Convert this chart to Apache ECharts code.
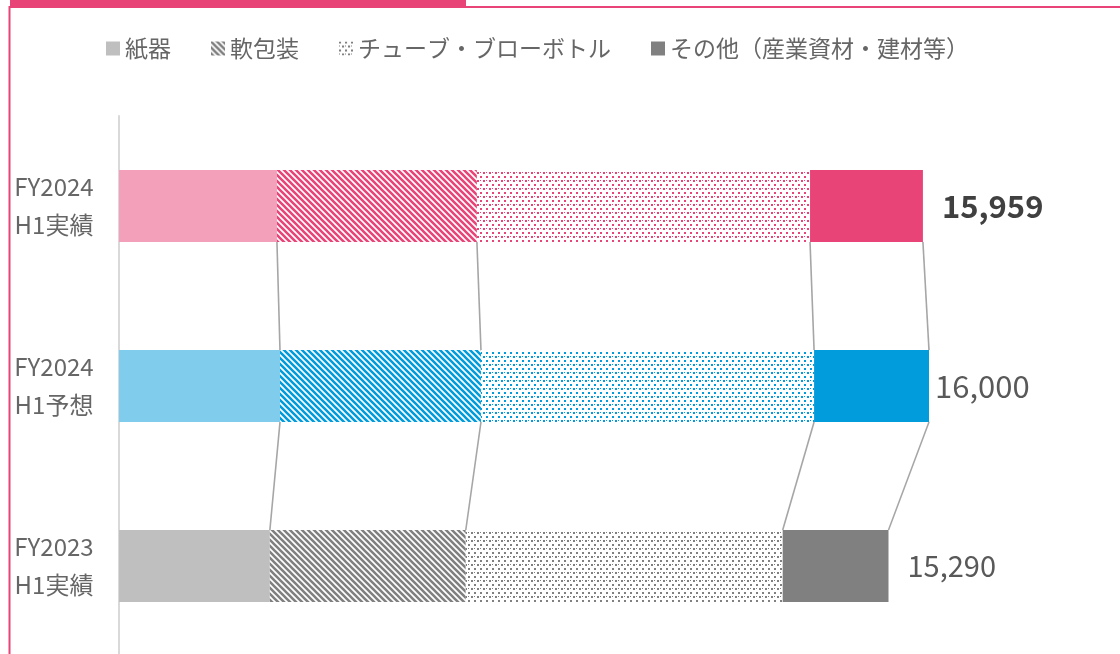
<!DOCTYPE html>
<html>
<head>
<meta charset="utf-8">
<script src="https://cdn.jsdelivr.net/npm/echarts@6/dist/echarts.min.js"></script>
<style>
html,body{margin:0;padding:0;background:#fff;}
#c{width:1120px;height:654px;}
</style>
</head>
<body>
<div id="c"></div>
<script>
// ---- data ----
const categories = ['FY2024\nH1実績', 'FY2024\nH1予想', 'FY2023\nH1実績'];
const seriesNames = ['紙器', '軟包装', 'チューブ・ブローボトル', 'その他（産業資材・建材等）'];
const paper = [3120, 3180, 2980];
const softPack = [3950, 3970, 3870];
const tube = [6580, 6580, 6260];
const other = [2230, 2270, 2090];
const totals = [15959, 16000, 15290];

// ---- styles ----
const FONT = "'Noto Sans CJK JP', 'Noto Sans', sans-serif";
const BAR_W = 72;
const palettes = [
  { light: '#F3A1BB', dark: '#E84478' },  // FY2024 実績 (pink)
  { light: '#80CCEC', dark: '#009CDB' },  // FY2024 予想 (blue)
  { light: '#BFBFBF', dark: '#808080' }   // FY2023 実績 (gray)
];

function stripes(color) {
  const s = 6, c = document.createElement('canvas');
  c.width = s; c.height = s;
  const g = c.getContext('2d');
  g.fillStyle = '#fff'; g.fillRect(0, 0, s, s);
  g.strokeStyle = color; g.lineWidth = 2.6;
  g.beginPath();
  for (let k = -1; k <= 1; k++) { g.moveTo(k * s - 1, -1); g.lineTo(k * s + s + 1, s + 1); }
  g.stroke();
  return { image: c, repeat: 'repeat' };
}
function dots(color) {
  const c = document.createElement('canvas');
  c.width = 6; c.height = 8;
  const g = c.getContext('2d');
  g.fillStyle = '#fff'; g.fillRect(0, 0, 6, 8);
  g.fillStyle = color;
  g.fillRect(0, 0, 2, 2);
  g.fillRect(3, 4, 2, 2);
  g.fillRect(0, 4, 1, 1);
  return { image: c, repeat: 'repeat' };
}

const fills = [
  p => p.light,
  p => stripes(p.dark),
  p => dots(p.dark),
  p => p.dark
];
const seriesValues = [paper, softPack, tube, other];
const legendPal = palettes[2];

const labelStyles = [
  { distance: 19, fontSize: 31, fontWeight: 'bold', color: '#404040' },
  { distance: 6, fontSize: 31, fontWeight: 'normal', color: '#595959' },
  { distance: 19, fontSize: 29, fontWeight: 'normal', color: '#595959' }
];

const barSeries = seriesNames.map((name, si) => ({
  name,
  type: 'bar',
  stack: 'total',
  barWidth: BAR_W,
  itemStyle: { color: fills[si](legendPal) },
  emphasis: { disabled: true },
  data: seriesValues[si].map((v, ci) => {
    const item = { value: v, itemStyle: { color: fills[si](palettes[ci]) } };
    if (si === 3) {
      item.label = Object.assign({
        show: true,
        position: 'right',
        fontFamily: FONT,
        formatter: () => totals[ci].toLocaleString('en-US')
      }, labelStyles[ci]);
    }
    return item;
  })
}));

function cumulative(idx) {
  const a = paper[idx], b = a + softPack[idx], c = b + tube[idx], d = c + other[idx];
  return [a, b, c, d];
}

const linkSeries = {
  type: 'custom',
  silent: true,
  z: 1,
  encode: { x: 0, y: 1 },
  data: categories.slice(0, -1).map((_, i) => [0, i]),
  renderItem: (params, api) => {
    const i = params.dataIndex;
    const c0 = cumulative(i), c1 = cumulative(i + 1);
    const half = BAR_W / 2;
    return {
      type: 'group',
      children: c0.map((v, k) => {
        const p0 = api.coord([v, i]);
        const p1 = api.coord([c1[k], i + 1]);
        return {
          type: 'line',
          shape: { x1: p0[0], y1: p0[1] + half, x2: p1[0], y2: p1[1] - half },
          style: { stroke: '#A6A6A6', lineWidth: 1.6 }
        };
      })
    };
  }
};

const chart = echarts.init(document.getElementById('c'), null, { renderer: 'canvas' });
chart.setOption({
  animation: false,
  backgroundColor: '#fff',
  textStyle: { fontFamily: FONT },
  legend: {
    data: seriesNames,
    left: 101,
    top: 32,
    icon: 'rect',
    itemWidth: 14,
    itemHeight: 14,
    itemGap: 40,
    textStyle: { fontSize: 23, color: '#666666', fontFamily: FONT },
    selectedMode: false
  },
  grid: {
    left: 119,
    top: 116,
    width: 911.25,
    height: 540,
    outerBoundsMode: 'none',
    containLabel: false
  },
  xAxis: {
    type: 'value',
    min: 0,
    max: 18000,
    show: false
  },
  yAxis: {
    type: 'category',
    data: categories,
    inverse: true,
    axisLine: { show: true, lineStyle: { color: '#D9D9D9', width: 2 } },
    axisTick: { show: false },
    splitLine: { show: false },
    axisLabel: {
      fontSize: 24,
      lineHeight: 38,
      color: '#666666',
      align: 'center',
      margin: 65,
      fontFamily: FONT
    }
  },
  graphic: [
    { type: 'rect', shape: { x: 10, y: 0, width: 456, height: 6 }, style: { fill: '#E84478' } },
    { type: 'rect', shape: { x: 10, y: 6, width: 1110, height: 2 }, style: { fill: '#E84478' } },
    { type: 'rect', shape: { x: 8.5, y: 6, width: 2, height: 648 }, style: { fill: '#E84478' } }
  ],
  series: [...barSeries, linkSeries]
});
</script>
</body>
</html>
